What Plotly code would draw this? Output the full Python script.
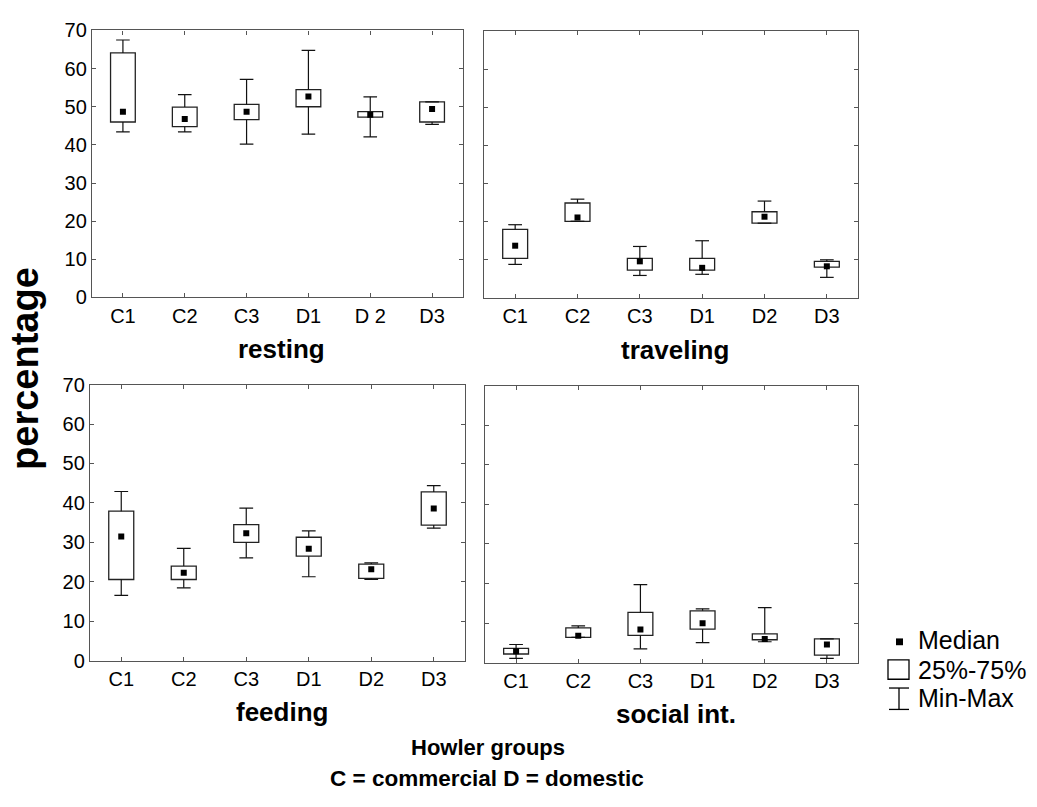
import plotly.graph_objects as go

W, H = 1037, 807
FONT = "Liberation Sans, Arial, Helvetica, sans-serif"

# ---------------- data ----------------
positions = [0, 1, 2, 3, 4, 5]
labels_resting = ["C1", "C2", "C3", "D1", "D 2", "D3"]
labels = ["C1", "C2", "C3", "D1", "D2", "D3"]

resting_min = [43.4, 43.4, 40.2, 42.8, 42.1, 45.4]
resting_q1 = [46.0, 44.8, 46.6, 50.0, 47.3, 46.0]
resting_median = [48.7, 46.8, 48.7, 52.7, 47.9, 49.4]
resting_q3 = [64.1, 49.9, 50.6, 54.5, 48.7, 51.3]
resting_max = [67.5, 53.2, 57.2, 64.8, 52.6, 51.3]

traveling_min = [8.8, 20.1, 5.9, 6.2, 19.6, 5.4]
traveling_q1 = [10.4, 20.1, 7.3, 7.3, 19.6, 8.1]
traveling_median = [13.7, 21.1, 9.6, 7.9, 21.3, 8.3]
traveling_q3 = [18.0, 24.9, 10.4, 10.4, 22.6, 9.6]
traveling_max = [19.2, 25.9, 13.5, 15.0, 25.4, 10.0]

feeding_min = [16.6, 18.5, 26.1, 21.3, 20.6, 33.6]
feeding_q1 = [20.6, 20.6, 30.0, 26.5, 20.9, 34.4]
feeding_median = [31.5, 22.3, 32.3, 28.4, 23.2, 38.6]
feeding_q3 = [37.9, 24.0, 34.5, 31.3, 24.5, 42.8]
feeding_max = [42.9, 28.5, 38.7, 32.9, 24.8, 44.4]

social_min = [1.1, 6.4, 3.5, 5.1, 5.3, 1.1]
social_q1 = [2.2, 6.4, 6.9, 8.5, 5.8, 1.9]
social_median = [2.9, 6.8, 8.4, 10.0, 6.0, 4.6]
social_q3 = [3.6, 8.8, 12.7, 13.1, 7.3, 6.0]
social_max = [4.6, 9.3, 19.7, 13.6, 13.9, 6.0]

y_ticks = [0, 10, 20, 30, 40, 50, 60, 70]

# ---------------- helpers ----------------
def px_x(p):
    return p / W

def px_y(p):
    return (H - p) / H

BOX_W = 0.4
CAP_HALF = 0.11

fig = go.Figure()

panels = [
    ("x", "y", resting_min, resting_q1, resting_median, resting_q3, resting_max,
     labels_resting, "resting", True, (92, 463), (20, 294.5)),
    ("x2", "y2", traveling_min, traveling_q1, traveling_median, traveling_q3, traveling_max,
     labels, "traveling", False, (484, 858), (20.5, 295)),
    ("x3", "y3", feeding_min, feeding_q1, feeding_median, feeding_q3, feeding_max,
     labels, "feeding", True, (90, 465), (384, 668)),
    ("x4", "y4", social_min, social_q1, social_median, social_q3, social_max,
     labels, "social int.", False, (485, 858), (385, 670)),
]

annotations = []
layout_axes = {}

for i, (xa, ya, mn, q1, med, q3, mx, ticktext, title, showy, xpx, ypx) in enumerate(panels):
    # boxes (25%-75%)
    fig.add_trace(go.Bar(
        x=positions, base=q1, y=[b - a for a, b in zip(q1, q3)], width=BOX_W,
        marker=dict(color="white", line=dict(color="#222", width=1.3)),
        xaxis=xa, yaxis=ya, showlegend=False, hoverinfo="skip"))
    # whiskers
    wx, wy = [], []
    for p, a, lo, hi, b in zip(positions, mn, q1, q3, mx):
        wx += [p, p, None, p, p, None,
               p - CAP_HALF, p + CAP_HALF, None, p - CAP_HALF, p + CAP_HALF, None]
        wy += [hi, b, None, lo, a, None, b, b, None, a, a, None]
    fig.add_trace(go.Scatter(
        x=wx, y=wy, mode="lines", line=dict(color="#111", width=1.2),
        xaxis=xa, yaxis=ya, showlegend=False, hoverinfo="skip"))
    # medians
    fig.add_trace(go.Scatter(
        x=positions, y=med, mode="markers",
        marker=dict(symbol="square", size=6, color="black", line=dict(width=0)),
        xaxis=xa, yaxis=ya, showlegend=False, hoverinfo="skip"))

    common = dict(showline=True, linecolor="#555", linewidth=1.4, mirror="ticks",
                  ticks="inside", ticklen=4, tickcolor="#555", tickwidth=1,
                  showgrid=False, zeroline=False,
                  tickfont=dict(size=20, color="black", family=FONT))
    key = "" if i == 0 else str(i + 1)
    layout_axes["xaxis" + key] = dict(
        common, domain=[px_x(xpx[0]), px_x(xpx[1])], range=[-0.5, 5.5],
        tickmode="array", tickvals=positions, ticktext=ticktext, anchor=ya)
    layout_axes["yaxis" + key] = dict(
        common, domain=[px_y(ypx[1]), px_y(ypx[0])], range=[0, 70],
        tickmode="array", tickvals=y_ticks, showticklabels=showy, anchor=xa)

    annotations.append(dict(
        text="<b>%s</b>" % title, xref="paper", yref="paper",
        x=px_x((xpx[0] + xpx[1]) / 2 + 4), y=px_y(ypx[1] + 53),
        xanchor="center", yanchor="middle", showarrow=False,
        font=dict(size=26, color="black", family=FONT)))

annotations += [
    dict(text="<b>percentage</b>", xref="paper", yref="paper", x=px_x(25), y=px_y(368),
         textangle=-90, xanchor="center", yanchor="middle", showarrow=False,
         font=dict(size=38, color="black", family=FONT)),
    dict(text="<b>Howler groups</b>", xref="paper", yref="paper", x=px_x(488), y=px_y(757),
         xanchor="center", yanchor="middle", showarrow=False,
         font=dict(size=22, color="black", family=FONT)),
    dict(text="<b>C = commercial D = domestic</b>", xref="paper", yref="paper",
         x=px_x(487), y=px_y(789), xanchor="center", yanchor="middle", showarrow=False,
         font=dict(size=22.5, color="black", family=FONT)),
]

legend_items = [("Median", 647), ("25%-75%", 677), ("Min-Max", 706)]
for txt, yy in legend_items:
    annotations.append(dict(text=txt, xref="paper", yref="paper", x=px_x(916), y=px_y(yy),
                            xanchor="left", yanchor="middle", showarrow=False,
                            font=dict(size=25, color="black", family=FONT)))

shapes = [
    dict(type="rect", xref="paper", yref="paper", x0=px_x(896), x1=px_x(903),
         y0=px_y(652), y1=px_y(645), fillcolor="black", line=dict(width=0)),
    dict(type="rect", xref="paper", yref="paper", x0=px_x(888), x1=px_x(909),
         y0=px_y(687), y1=px_y(667), fillcolor="white", line=dict(color="black", width=1.3)),
    dict(type="line", xref="paper", yref="paper", x0=px_x(889), x1=px_x(909),
         y0=px_y(696), y1=px_y(696), line=dict(color="black", width=1.3)),
    dict(type="line", xref="paper", yref="paper", x0=px_x(899), x1=px_x(899),
         y0=px_y(696), y1=px_y(718), line=dict(color="black", width=1.3)),
    dict(type="line", xref="paper", yref="paper", x0=px_x(889), x1=px_x(909),
         y0=px_y(718), y1=px_y(718), line=dict(color="black", width=1.3)),
]

fig.update_layout(
    width=W, height=H, margin=dict(l=0, r=0, t=0, b=0),
    paper_bgcolor="white", plot_bgcolor="white", barmode="overlay",
    showlegend=False, hovermode=False,
    font=dict(family=FONT, color="black"),
    annotations=annotations, shapes=shapes,
    **layout_axes)

fig.write_html("out.html")
